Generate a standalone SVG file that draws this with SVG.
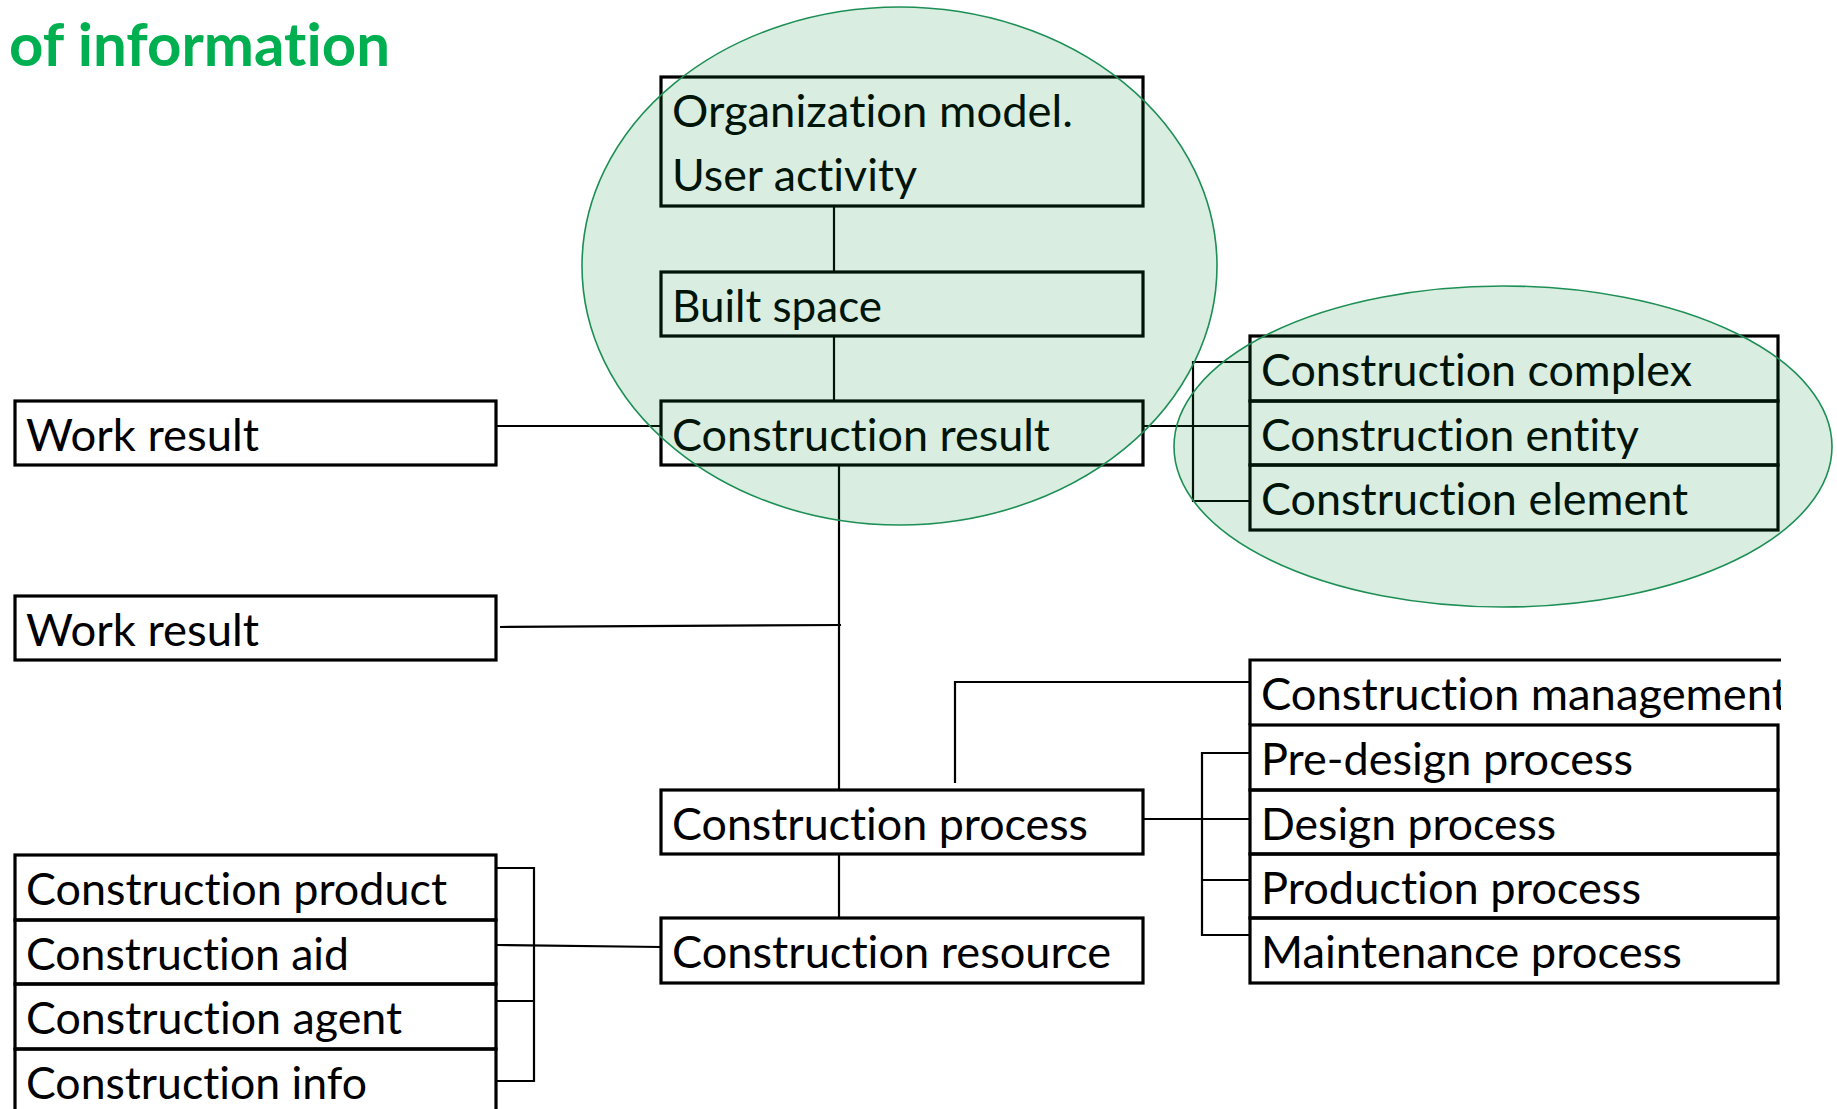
<svg xmlns="http://www.w3.org/2000/svg" width="1837" height="1109" viewBox="0 0 1837 1109">
<style>
.box{fill:none;stroke:#000;stroke-width:3.2}
.lbl{font-family:Lato,"Liberation Sans",sans-serif;font-size:44px;fill:#000;font-variant-ligatures:none;font-feature-settings:"liga" 0,"clig" 0,"dlig" 0}
.con{fill:none;stroke:#000;stroke-width:2.2}
.hl{fill:#018737;fill-opacity:0.15;stroke:#1d8f55;stroke-width:1.6}
.title{font-family:Lato,"Liberation Sans",sans-serif;font-weight:bold;font-size:60px;fill:#00B050;font-variant-ligatures:none;font-feature-settings:"liga" 0,"clig" 0,"dlig" 0}
</style>
<defs>
<clipPath id="clipMgmt"><rect x="1248" y="650" width="533" height="80"/></clipPath>
</defs>
<rect width="1837" height="1109" fill="#fff"/>
<text class="title" x="9" y="66" textLength="381" lengthAdjust="spacingAndGlyphs">of informa<tspan>t</tspan>ion</text>

<g id="connectors">
<path class="con" d="M834,207 V272"/>
<path class="con" d="M834,336 V401"/>
<path class="con" d="M839,465 V790"/>
<path class="con" d="M497,426 H661"/>
<path class="con" d="M500,627 L841,625"/>
<path class="con" d="M1143,426 H1193"/>
<path class="con" d="M1250,362 H1193 V501 H1250"/>
<path class="con" d="M1193,426 H1250"/>
<path class="con" d="M1143,819 H1250"/>
<path class="con" d="M1250,753 H1202 V935 H1250"/>
<path class="con" d="M1202,880 H1250"/>
<path class="con" d="M1250,682 H955 V783"/>
<path class="con" d="M839,854 V918"/>
<path class="con" d="M496,945 L661,947"/>
<path class="con" d="M496,868 H534 V1081 H496"/>
<path class="con" d="M496,1001 H534"/>
</g>

<g id="n-org"><rect class="box" x="661" y="77" width="482" height="129"/>
<text class="lbl" x="672" y="127" textLength="401" lengthAdjust="spacingAndGlyphs">Organization model.</text>
<text class="lbl" x="672" y="191" textLength="245" lengthAdjust="spacingAndGlyphs">User activity</text></g>
<g id="n-built"><rect class="box" x="661" y="272" width="482" height="64"/>
<text class="lbl" x="672" y="322" textLength="210" lengthAdjust="spacingAndGlyphs">Built space</text></g>
<g id="n-result"><rect class="box" x="661" y="401" width="482" height="64"/>
<text class="lbl" x="672" y="451" textLength="378" lengthAdjust="spacingAndGlyphs">Construction result</text></g>
<g id="n-work1"><rect class="box" x="15" y="401" width="481" height="64"/>
<text class="lbl" x="26" y="451" textLength="233" lengthAdjust="spacingAndGlyphs">Work result</text></g>
<g id="n-work2"><rect class="box" x="15" y="596" width="481" height="64"/>
<text class="lbl" x="26" y="646" textLength="233" lengthAdjust="spacingAndGlyphs">Work result</text></g>
<g id="n-process"><rect class="box" x="661" y="790" width="482" height="64"/>
<text class="lbl" x="672" y="840" textLength="416" lengthAdjust="spacingAndGlyphs">Construction process</text></g>
<g id="n-resource"><rect class="box" x="661" y="918" width="482" height="65"/>
<text class="lbl" x="672" y="968" textLength="439" lengthAdjust="spacingAndGlyphs">Construction resource</text></g>

<g id="n-complex"><rect class="box" x="1250" y="336" width="528" height="65"/>
<text class="lbl" x="1261" y="386" textLength="431" lengthAdjust="spacingAndGlyphs">Construction complex</text></g>
<g id="n-entity"><rect class="box" x="1250" y="401" width="528" height="64"/>
<text class="lbl" x="1261" y="451" textLength="378" lengthAdjust="spacingAndGlyphs">Construction entity</text></g>
<g id="n-element"><rect class="box" x="1250" y="465" width="528" height="65"/>
<text class="lbl" x="1261" y="515" textLength="427" lengthAdjust="spacingAndGlyphs">Construction element</text></g>

<g id="n-mgmt"><path class="box" d="M1781,660 H1250 V725"/>
<text class="lbl" x="1261" y="710" textLength="527" lengthAdjust="spacingAndGlyphs" clip-path="url(#clipMgmt)">Construction management</text></g>
<g id="n-predesign"><rect class="box" x="1250" y="725" width="528" height="65"/>
<text class="lbl" x="1261" y="775" textLength="372" lengthAdjust="spacingAndGlyphs">Pre-design process</text></g>
<g id="n-design"><rect class="box" x="1250" y="790" width="528" height="64"/>
<text class="lbl" x="1261" y="840" textLength="295" lengthAdjust="spacingAndGlyphs">Design process</text></g>
<g id="n-production"><rect class="box" x="1250" y="854" width="528" height="64"/>
<text class="lbl" x="1261" y="904" textLength="380" lengthAdjust="spacingAndGlyphs">Production process</text></g>
<g id="n-maintenance"><rect class="box" x="1250" y="918" width="528" height="65"/>
<text class="lbl" x="1261" y="968" textLength="421" lengthAdjust="spacingAndGlyphs">Maintenance process</text></g>

<g id="n-product"><rect class="box" x="15" y="855" width="481" height="65"/>
<text class="lbl" x="26" y="905" textLength="421" lengthAdjust="spacingAndGlyphs">Construction product</text></g>
<g id="n-aid"><rect class="box" x="15" y="920" width="481" height="64"/>
<text class="lbl" x="26" y="970" textLength="323" lengthAdjust="spacingAndGlyphs">Construction aid</text></g>
<g id="n-agent"><rect class="box" x="15" y="984" width="481" height="65"/>
<text class="lbl" x="26" y="1034" textLength="376" lengthAdjust="spacingAndGlyphs">Construction agent</text></g>
<g id="n-info"><rect class="box" x="15" y="1049" width="481" height="80"/>
<text class="lbl" x="26" y="1099" textLength="341" lengthAdjust="spacingAndGlyphs">Construction info</text></g>

<g id="highlights">
<ellipse class="hl" cx="899.5" cy="266" rx="317.5" ry="259"/>
<ellipse class="hl" cx="1503" cy="446.5" rx="329" ry="160.5"/>
</g>
</svg>
